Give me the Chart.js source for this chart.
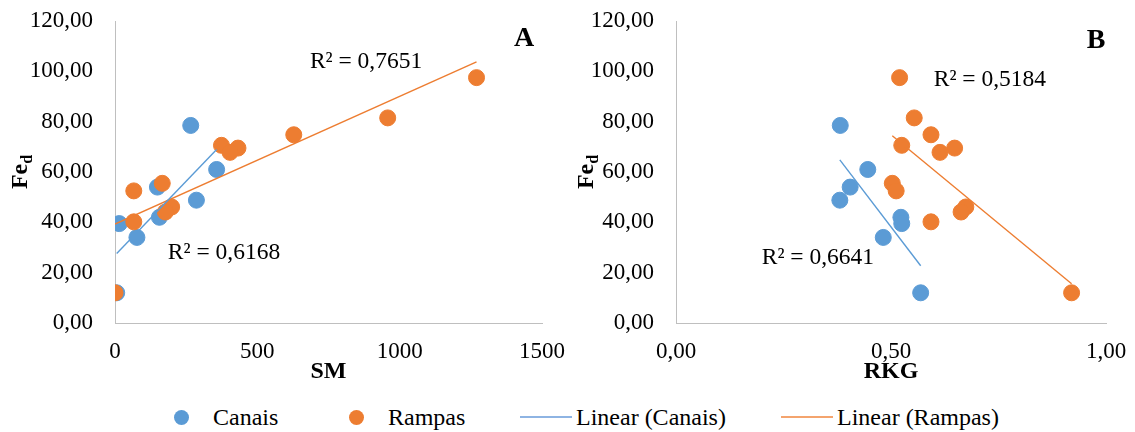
<!DOCTYPE html>
<html>
<head>
<meta charset="utf-8">
<script src="https://cdn.jsdelivr.net/npm/chart.js@4.4.1/dist/chart.umd.min.js"></script>
<style>
  body { margin: 0; background: #fff; width: 1135px; height: 432px; position: relative; overflow: hidden; font-family: "Liberation Serif", serif; }
  #chartA { position: absolute; left: 0; top: 0; }
  #chartB { position: absolute; left: 565px; top: 0; }
  .item { position: absolute; top: 403px; height: 28px; display: flex; align-items: center; font-size: 24px; color: #000; white-space: nowrap; }
  .dot { width: 15px; height: 15px; border-radius: 50%; margin-right: 24px; }
  .line { width: 52px; height: 2px; margin-right: 4px; }
</style>
</head>
<body>
<canvas id="chartA" width="590" height="395"></canvas>
<canvas id="chartB" width="600" height="395"></canvas>
<div class="item" style="left:174px"><span class="dot" style="background:#5B9BD5"></span>Canais</div>
<div class="item" style="left:349px"><span class="dot" style="background:#ED7D31"></span>Rampas</div>
<div class="item" style="left:520px"><span class="line" style="background:#8EB4E3"></span>Linear (Canais)</div>
<div class="item" style="left:781px"><span class="line" style="background:#F4A46E"></span>Linear (Rampas)</div>
<script>
// Fe_d values shared by both panels
const fedCanais = [78.5, 61, 54, 48.8, 42, 39.5, 34, 12];
const smCanais = [266, 357, 149, 286, 156, 15, 77, 6];
const rkgCanais = [0.382, 0.446, 0.405, 0.381, 0.523, 0.525, 0.482, 0.569];

const fedRampas = [97.5, 81.5, 74.8, 70.6, 69.5, 67.8, 55.5, 52.5, 46.1, 44.1, 40.2, 12];
const smRampas = [1270, 958, 628, 374, 432, 404, 166, 66, 199, 177, 66, 0];
const rkgRampas = [0.520, 0.554, 0.593, 0.525, 0.648, 0.614, 0.503, 0.512, 0.674, 0.663, 0.593, 0.920];

const r2A = ["R² = 0,6168", "R² = 0,7651"];
const r2B = ["R² = 0,6641", "R² = 0,5184"];

const BLUE = "#5B9BD5";
const ORANGE = "#ED7D31";
const FONT = "Liberation Serif";

function pts(xs, ys) {
    return xs.map((x, i) => ({ x: x, y: ys[i] }));
}

// least squares line, drawn over the range of the data
function trend(xs, ys) {
    const n = xs.length;
    const mx = xs.reduce((a, b) => a + b, 0) / n;
    const my = ys.reduce((a, b) => a + b, 0) / n;
    let sxy = 0, sxx = 0;
    xs.forEach((x, i) => { sxy += (x - mx) * (ys[i] - my); sxx += (x - mx) * (x - mx); });
    const b = sxy / sxx;
    const lo = Math.min(...xs), hi = Math.max(...xs);
    return [{ x: lo, y: my + b * (lo - mx) }, { x: hi, y: my + b * (hi - mx) }];
}

const comma = (v, d) => Number(v).toFixed(d).replace(".", ",");

const notes = {
    id: "notes",
    afterDraw(chart, args, o) {
        const { ctx, scales: { x, y } } = chart;
        ctx.save();
        ctx.fillStyle = "#000";
        ctx.textAlign = "center";
        ctx.textBaseline = "middle";
        ctx.font = '23.5px "' + FONT + '"';
        o.labels.forEach(l => ctx.fillText(l.text, x.getPixelForValue(l.at[0]), y.getPixelForValue(l.at[1])));
        ctx.font = 'bold 28px "' + FONT + '"';
        ctx.fillText(o.letter, x.getPixelForValue(o.letterAt[0]), y.getPixelForValue(o.letterAt[1]));

        // rotated y title with subscript
        ctx.translate(o.titleX, (y.top + y.bottom) / 2);
        ctx.rotate(-Math.PI / 2);
        ctx.textAlign = "left";
        ctx.font = 'bold 24px "' + FONT + '"';
        const w1 = ctx.measureText("Fe").width;
        ctx.font = 'bold 16px "' + FONT + '"';
        const w2 = ctx.measureText("d").width;
        const start = -(w1 + w2) / 2;
        ctx.font = 'bold 24px "' + FONT + '"';
        ctx.fillText("Fe", start, 0);
        ctx.font = 'bold 16px "' + FONT + '"';
        ctx.fillText("d", start + w1, 7);
        ctx.restore();
    }
};

function makeChart(id, xC, xR, xTitle, xMax, xStep, xDec, yWidth, padRight, labels, letter, letterAt, titleX) {
    const ctx = document.getElementById(id).getContext("2d");
    return new Chart(ctx, {
        type: "scatter",
        data: {
            datasets: [
                { label: "Linear (Canais)", data: trend(xC, fedCanais), showLine: true, borderColor: BLUE, borderWidth: 1.4, pointRadius: 0, order: 0 },
                { label: "Linear (Rampas)", data: trend(xR, fedRampas), showLine: true, borderColor: ORANGE, borderWidth: 1.4, pointRadius: 0, order: 1 },
                { label: "Rampas", data: pts(xR, fedRampas), backgroundColor: ORANGE, borderColor: ORANGE, pointRadius: 8, order: 2 },
                { label: "Canais", data: pts(xC, fedCanais), backgroundColor: BLUE, borderColor: BLUE, pointRadius: 8, order: 3 },
            ],
        },
        options: {
            responsive: false,
            animation: false,
            layout: { padding: { left: 0, right: padRight, top: 21, bottom: 0 } },
            plugins: {
                legend: { display: false },
                tooltip: { enabled: false },
                notes: { labels: labels, letter: letter, letterAt: letterAt, titleX: titleX },
            },
            scales: {
                x: {
                    type: "linear",
                    min: 0,
                    max: xMax,
                    afterFit: s => { s.height = 72; },
                    grid: { display: false, drawTicks: true, tickLength: 15 },
                    border: { display: true, color: "#BFBFBF", width: 1 },
                    ticks: { stepSize: xStep, padding: 0, color: "#000", font: { family: FONT, size: 23 }, callback: v => comma(v, xDec) },
                    title: { display: true, text: xTitle, color: "#000", font: { family: FONT, size: 24, weight: "bold" }, padding: { top: 0, bottom: 9 } },
                },
                y: {
                    min: 0,
                    max: 120,
                    afterFit: s => { s.width = yWidth; },
                    grid: { display: false, drawTicks: true, tickLength: 22 },
                    border: { display: true, color: "#BFBFBF", width: 1 },
                    ticks: { stepSize: 20, padding: 0, color: "#000", font: { family: FONT, size: 23 }, callback: v => comma(v, 2) },
                },
            },
        },
        plugins: [notes],
    });
}

makeChart("chartA", smCanais, smRampas, "SM", 1500, 500, 0, 115, 48,
    [{ text: r2A[0], at: [383, 27.9] }, { text: r2A[1], at: [882, 103.6] }],
    "A", [1437, 113], 21);

makeChart("chartB", rkgCanais, rkgRampas, "RKG", 1, 0.5, 2, 111, 59,
    [{ text: r2B[0], at: [0.33, 25.9] }, { text: r2B[1], at: [0.73, 96.5] }],
    "B", [0.977, 112.3], 22);
</script>
</body>
</html>
